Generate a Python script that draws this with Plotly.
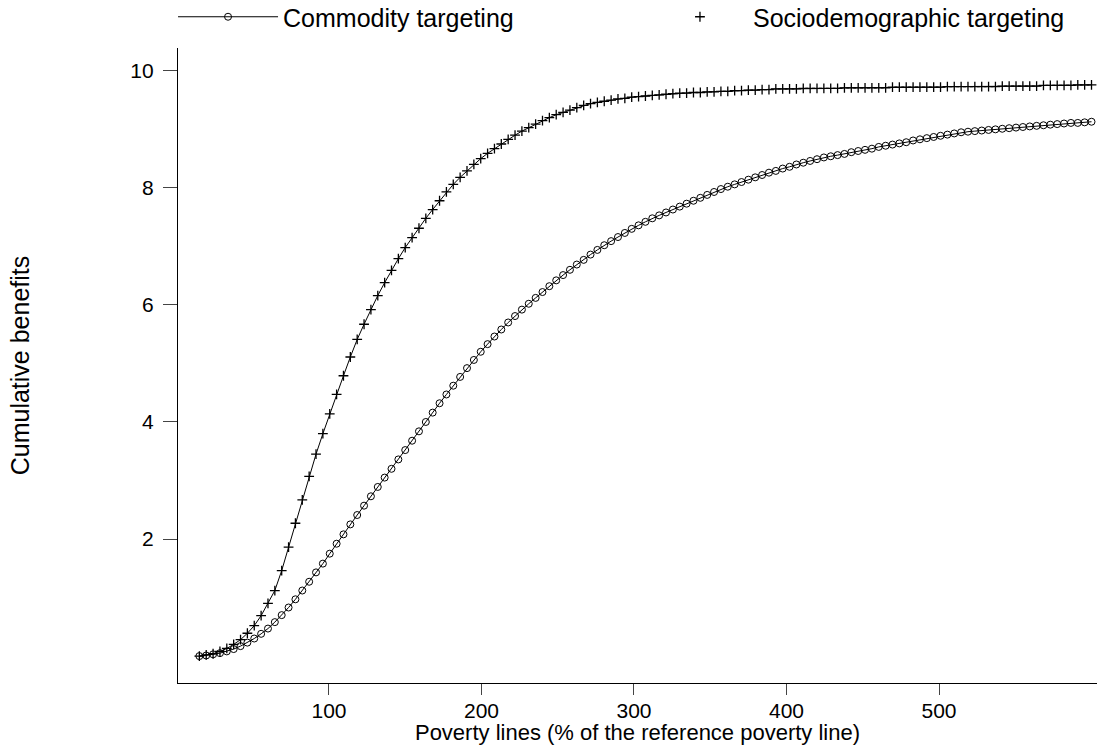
import plotly.graph_objects as go

# Poverty lines (% of the reference poverty line)
poverty_line = [
    15, 19.5, 24, 28.5, 33, 37.5, 42, 46.5, 51, 55.5,
    60, 64.5, 69, 73.5, 78, 82.5, 87, 91.5, 96, 100.5,
    105, 109.5, 114, 118.5, 123, 127.5, 132, 136.5, 141, 145.5,
    150, 154.5, 159, 163.5, 168, 172.5, 177, 181.5, 186, 190.5,
    195, 199.5, 204, 208.5, 213, 217.5, 222, 226.5, 231, 235.5,
    240, 244.5, 249, 253.5, 258, 262.5, 267, 271.5, 276, 280.5,
    285, 289.5, 294, 298.5, 303, 307.5, 312, 316.5, 321, 325.5,
    330, 334.5, 339, 343.5, 348, 352.5, 357, 361.5, 366, 370.5,
    375, 379.5, 384, 388.5, 393, 397.5, 402, 406.5, 411, 415.5,
    420, 424.5, 429, 433.5, 438, 442.5, 447, 451.5, 456, 460.5,
    465, 469.5, 474, 478.5, 483, 487.5, 492, 496.5, 501, 505.5,
    510, 514.5, 519, 523.5, 528, 532.5, 537, 541.5, 546, 550.5,
    555, 559.5, 564, 568.5, 573, 577.5, 582, 586.5, 591, 595.5,
    600,
]

commodity = [
    0.00, 0.01, 0.03, 0.05, 0.08, 0.12, 0.17, 0.23, 0.30, 0.38,
    0.47, 0.58, 0.70, 0.83, 0.97, 1.12, 1.27, 1.43, 1.58, 1.75,
    1.92, 2.08, 2.25, 2.41, 2.57, 2.73, 2.89, 3.05, 3.20, 3.36,
    3.52, 3.68, 3.84, 4.00, 4.16, 4.32, 4.47, 4.62, 4.77, 4.92,
    5.06, 5.20, 5.33, 5.46, 5.58, 5.70, 5.81, 5.92, 6.02, 6.12,
    6.22, 6.32, 6.42, 6.51, 6.60, 6.69, 6.77, 6.86, 6.94, 7.02,
    7.09, 7.16, 7.23, 7.30, 7.36, 7.42, 7.48, 7.53, 7.58, 7.63,
    7.68, 7.73, 7.78, 7.83, 7.88, 7.93, 7.98, 8.02, 8.06, 8.10,
    8.14, 8.18, 8.22, 8.26, 8.29, 8.33, 8.36, 8.40, 8.43, 8.46,
    8.49, 8.52, 8.54, 8.56, 8.58, 8.61, 8.63, 8.65, 8.67, 8.70,
    8.72, 8.74, 8.76, 8.78, 8.81, 8.83, 8.85, 8.87, 8.89, 8.91,
    8.93, 8.95, 8.96, 8.97, 8.98, 8.99, 9.00, 9.01, 9.02, 9.03,
    9.04, 9.05, 9.06, 9.07, 9.08, 9.09, 9.10, 9.11, 9.11, 9.12,
    9.13,
]

sociodemographic = [
    0.00, 0.02, 0.04, 0.08, 0.13, 0.20, 0.28, 0.39, 0.52, 0.69,
    0.90, 1.12, 1.46, 1.86, 2.27, 2.67, 3.07, 3.45, 3.80, 4.14,
    4.47, 4.79, 5.11, 5.41, 5.67, 5.92, 6.16, 6.38, 6.59, 6.79,
    6.98, 7.15, 7.31, 7.48, 7.63, 7.78, 7.93, 8.06, 8.18, 8.29,
    8.40, 8.50, 8.59, 8.67, 8.75, 8.83, 8.90, 8.97, 9.03, 9.09,
    9.15, 9.20, 9.25, 9.29, 9.33, 9.37, 9.41, 9.44, 9.46, 9.48,
    9.50, 9.52, 9.53, 9.55, 9.56, 9.57, 9.58, 9.59, 9.60, 9.61,
    9.62, 9.62, 9.63, 9.63, 9.64, 9.64, 9.65, 9.65, 9.66, 9.66,
    9.67, 9.67, 9.68, 9.68, 9.69, 9.69, 9.69, 9.69, 9.70, 9.70,
    9.70, 9.70, 9.70, 9.70, 9.71, 9.71, 9.71, 9.71, 9.71, 9.71,
    9.71, 9.72, 9.72, 9.72, 9.72, 9.72, 9.72, 9.72, 9.72, 9.73,
    9.73, 9.73, 9.73, 9.73, 9.73, 9.73, 9.73, 9.74, 9.74, 9.74,
    9.74, 9.74, 9.74, 9.75, 9.75, 9.75, 9.75, 9.75, 9.76, 9.76,
    9.76,
]

x_ticks = [100, 200, 300, 400, 500]
y_ticks = [2, 4, 6, 8, 10]

FONT = "Liberation Sans, Arial, Helvetica, sans-serif"

fig = go.Figure()

fig.add_trace(go.Scatter(
    x=poverty_line, y=commodity, mode="lines+markers",
    name="Commodity targeting", legend="legend",
    line=dict(color="black", width=1),
    marker=dict(symbol="circle-open", size=7, color="black",
                line=dict(width=1, color="black")),
))
fig.add_trace(go.Scatter(
    x=poverty_line, y=sociodemographic, mode="lines",
    showlegend=False, hoverinfo="skip",
    line=dict(color="black", width=1),
))
fig.add_trace(go.Scatter(
    x=poverty_line, y=sociodemographic, mode="markers",
    name="Sociodemographic targeting", legend="legend2",
    marker=dict(symbol="cross-thin-open", size=7, color="black",
                line=dict(width=1.3, color="black")),
))

legend_common = dict(
    orientation="h", yref="paper", y=1.0488, yanchor="middle",
    font=dict(size=25), bgcolor="rgba(0,0,0,0)", borderwidth=0,
)

fig.update_layout(
    width=1105, height=745,
    margin=dict(l=178, r=8, t=48, b=62, autoexpand=False),
    paper_bgcolor="white", plot_bgcolor="white",
    font=dict(family=FONT, size=21, color="black"),
    showlegend=True,
    legend=dict(x=-0.0054, xanchor="left", itemwidth=100, **legend_common),
    legend2=dict(x=0.5103, xanchor="left", itemwidth=96, **legend_common),
    xaxis=dict(
        range=[1.0, 603.6], tickvals=x_ticks, ticks="outside", ticklen=11,
        tickcolor="#444", tickwidth=1,
        showline=True, linecolor="black", linewidth=1.3, mirror=False,
        showgrid=False, zeroline=False,
        tickfont=dict(size=21), ticklabelstandoff=-2,
        title=dict(text="Poverty lines (% of the reference poverty line)",
                   font=dict(size=22), standoff=2),
    ),
    yaxis=dict(
        range=[-0.46, 10.39], tickvals=y_ticks, ticks="outside", ticklen=14,
        tickcolor="#444", tickwidth=1,
        showline=True, linecolor="black", linewidth=1.3, mirror=False,
        showgrid=False, zeroline=False,
        tickfont=dict(size=21), ticklabelstandoff=5,
        title=dict(text="Cumulative benefits", font=dict(size=25), standoff=93),
    ),
)

fig.write_html("out.html", config={"displayModeBar": False},
               post_script="document.body.style.margin='0px';")
